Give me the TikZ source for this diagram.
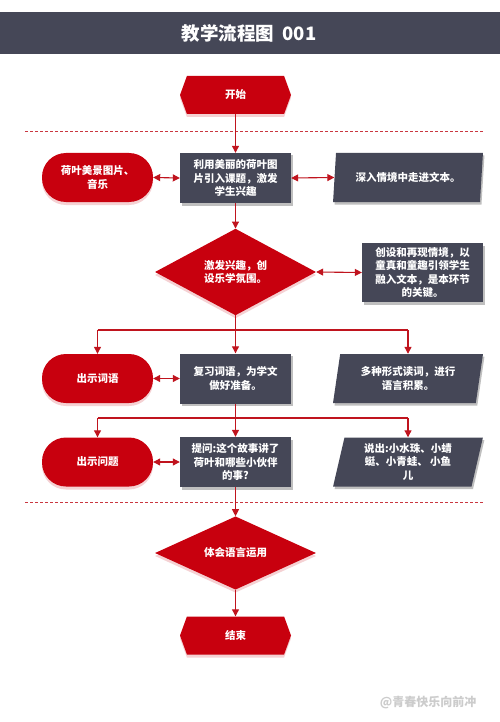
\documentclass[tikz,border=0pt]{standalone}
\usepackage{fontspec}
\setmainfont{Noto Sans CJK SC}
\usetikzlibrary{shapes.geometric,shapes.symbols,shadows,arrows.meta}
\definecolor{rd}{HTML}{C8000E}
\definecolor{dk}{HTML}{454757}
\definecolor{lnc}{HTML}{C0141E}
\begin{document}
\begin{tikzpicture}[x=1pt,y=-1pt,
 every node/.style={font=\bfseries\fontsize{10.5}{13.5}\selectfont, text=white, align=center, inner sep=0pt},
 shd/.style={drop shadow={shadow xshift=1.5pt,shadow yshift=-2.5pt,opacity=0.25,fill=black}},
 rshd/.style={drop shadow={shadow xshift=0pt,shadow yshift=-3pt,opacity=0.4,fill=rd!45}},
 darkbox/.style={rectangle, fill=dk, minimum width=111pt, minimum height=50pt, shd},
 pill/.style={rectangle, rounded corners=24pt, fill=rd, minimum width=111pt, minimum height=49pt, rshd},
 para/.style={trapezium, trapezium left angle=78, trapezium right angle=102, trapezium stretches=true, fill=dk, minimum width=150pt, minimum height=49pt, shd},
 dia/.style={diamond, fill=rd, minimum width=161pt, minimum height=68pt, rshd},
 hexa/.style={signal, signal to=east and west, signal pointer angle=140, fill=rd, minimum width=111pt, minimum height=38pt, rshd},
 conn/.style={draw=lnc, line width=1.1pt},
 arr/.style={conn, -{Triangle[length=7pt,width=7pt]}},
 darr/.style={conn, {Triangle[length=7pt,width=7pt]}-{Triangle[length=7pt,width=7pt]}},
 sep/.style={draw=lnc!85, line width=0.8pt, dash pattern=on 3pt off 2pt},
]
\useasboundingbox[fill=white] (0,0) rectangle (500,722);
% title bar
\fill[dk] (0,12) rectangle (500,54);
\node[font=\bfseries\fontsize{18.5}{22}\selectfont] (title) at (249,33) {教学流程图\ \ 001};
% start
\node[hexa] (start) at (235.5,95) {开始};
\draw[sep] (25,131) -- (483,131);
% row 1
\node[darkbox] (b1) at (235.5,178) {利用美丽的荷叶图\\片引入课题，激发\\学生兴趣};
\node[pill] (l1) at (97.5,177.5) {荷叶美景图片、\\音乐};
\node[para] (p1) at (408,177.5) {深入情境中走进文本。};
% diamond 1
\node[dia] (d1) at (235.5,272) {激发兴趣，创\\设乐学氛围。};
\node[darkbox, minimum width=121pt, minimum height=59pt] (b2) at (422.5,272.5) {创设和再现情境，以\\童真和童趣引领学生\\融入文本，是本环节\\的关键。};
% row 3
\node[pill] (l3) at (97.5,378.5) {出示词语};
\node[darkbox] (b3) at (235.5,378.5) {复习词语，为学文\\做好准备。};
\node[para] (p3) at (408,378.5) {多种形式读词，进行\\语言积累。};
% row 4
\node[pill] (l4) at (97.5,462) {出示问题};
\node[darkbox] (b4) at (235.5,462) {提问:这个故事讲了\\荷叶和哪些小伙伴\\的事?};
\node[para] (p4) at (408,462) {说出:小水珠、小蜻\\蜓、小青蛙、 小鱼\\儿};
\draw[sep] (25,502) -- (483,502);
% diamond 2 and end
\node[dia] (d2) at (235.5,553) {体会语言运用};
\node[hexa] (end) at (235.5,635.5) {结束};
% watermark
\node[text=black!20, font=\bfseries\fontsize{12}{14}\selectfont] (wm) at (428,703) {@青春快乐向前冲};
% connectors
\draw[arr] (start.south) -- (b1.north);
\draw[darr] (l1.east) -- (b1.west);
\draw[darr] (b1.east) -- (p1.west);
\draw[arr] (b1.south) -- (d1.north);
\draw[darr] (d1.east) -- (b2.west);
\coordinate (j1) at (235.5,330);
\draw[conn] (d1.south) -- (j1);
\draw[conn] (l3.north |- j1) -- (p3.north |- j1);
\draw[arr] (l3.north |- j1) -- (l3.north);
\draw[arr] (j1) -- (b3.north);
\draw[arr] (p3.north |- j1) -- (p3.north);
\draw[darr] (l3.east) -- (b3.west);
\coordinate (j2) at (235.5,418);
\draw[conn] (b3.south) -- (j2);
\draw[conn] (l4.north |- j2) -- (p4.north |- j2);
\draw[arr] (l4.north |- j2) -- (l4.north);
\draw[arr] (j2) -- (b4.north);
\draw[arr] (p4.north |- j2) -- (p4.north);
\draw[darr] (l4.east) -- (b4.west);
\draw[arr] (b4.south) -- (d2.north);
\draw[arr] (d2.south) -- (end.north);
\end{tikzpicture}
\end{document}
